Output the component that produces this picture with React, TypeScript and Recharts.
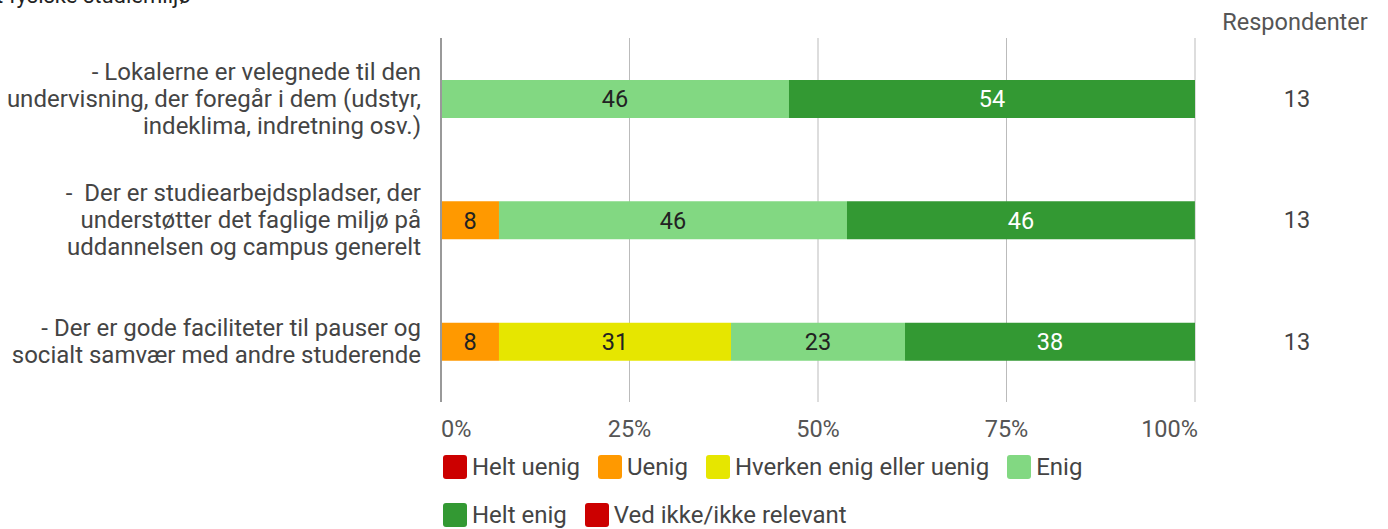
import React from 'react';
import { BarChart, Bar, XAxis, YAxis, CartesianGrid, LabelList } from 'recharts';

const categories = [
  ['- Lokalerne er velegnede til den', 'undervisning, der foregår i dem (udstyr,', 'indeklima, indretning osv.)'],
  ['-  Der er studiearbejdspladser, der', 'understøtter det faglige miljø på', 'uddannelsen og campus generelt'],
  ['- Der er gode faciliteter til pauser og', 'socialt samvær med andre studerende'],
];

const seriesNames = ['Helt uenig', 'Uenig', 'Hverken enig eller uenig', 'Enig', 'Helt enig', 'Ved ikke/ikke relevant'];
const seriesColors = ['#cc0000', '#ff9900', '#e6e600', '#82d882', '#339933', '#cc0000'];
const labelColors = ['#ffffff', '#222222', '#222222', '#222222', '#ffffff', '#ffffff'];

// percentages per category
const heltUenig = [0, 0, 0];
const uenig = [0, 7.69, 7.69];
const hverken = [0, 0, 30.77];
const enig = [46.15, 46.15, 23.08];
const heltEnig = [53.85, 46.15, 38.46];
const vedIkke = [0, 0, 0];

const respondents = [13, 13, 13];
const xTicks = [0, 25, 50, 75, 100];

const seriesValues = [heltUenig, uenig, hverken, enig, heltEnig, vedIkke];
const keys = ['s0', 's1', 's2', 's3', 's4', 's5'];

const data = categories.map((lines, i) => {
  const row: any = { name: lines.join(' '), lines, n: respondents[i] };
  keys.forEach((k, j) => (row[k] = seriesValues[j][i]));
  return row;
});

const FONT = 'Roboto, "Noto Sans", sans-serif';
const FS = 23.5;

const CategoryTick = (props: any) => {
  const { y, payload } = props;
  const lines: string[] = data[payload.index]?.lines ?? [payload.value];
  const lh = 27;
  const startY = y - ((lines.length - 1) * lh) / 2;
  return (
    <g>
      {lines.map((l, i) => (
        <text key={i} x={421} y={startY + i * lh} dy="0.35em" textAnchor="end" fill="#444" fontSize={24} fontFamily={FONT} style={{ whiteSpace: 'pre' }}>
          {l}
        </text>
      ))}
    </g>
  );
};

const RespondentTick = (props: any) => {
  const { y, payload } = props;
  return (
    <text x={1297} y={y} dy="0.35em" textAnchor="middle" fill="#444" fontSize={FS} fontFamily={FONT}>
      {data[payload.index]?.n}
    </text>
  );
};

const PercentTick = (props: any) => {
  const { x, y, payload, index } = props;
  const anchor = index === 0 ? 'start' : index === xTicks.length - 1 ? 'end' : 'middle';
  const dx = index === xTicks.length - 1 ? 3 : 0;
  return (
    <text x={x + dx} y={y + 27} textAnchor={anchor} fill="#555" fontSize={FS} fontFamily={FONT}>
      {payload.value}%
    </text>
  );
};

const makeLabel = (color: string) => (props: any) => {
  const { x, y, width, height, value } = props;
  if (!value) return null;
  return (
    <text x={x + width / 2} y={y + height / 2} dy="0.35em" textAnchor="middle" fill={color} fontSize={FS} fontFamily={FONT}>
      {Math.round(value)}
    </text>
  );
};

export default function App() {
  return (
    <div style={{ position: 'absolute', left: 0, top: 0, width: 1388, height: 529, background: '#fff', fontFamily: FONT, overflow: 'hidden' }}>
      <svg width={1388} height={40} style={{ position: 'absolute', left: 0, top: 0 }}>
        <text x={-30} y={3} fontSize={22} fill="#222" fontFamily={FONT}>Det fysiske studiemiljø</text>
        <text x={1295} y={22} dy="0.35em" textAnchor="middle" fontSize={FS} fill="#555" fontFamily={FONT}>Respondenter</text>
      </svg>
      <BarChart
        width={1388}
        height={529}
        data={data}
        layout="vertical"
        margin={{ top: 38, right: 0, bottom: 97, left: 0 }}
        style={{ position: 'absolute', left: 0, top: 0 }}
      >
        <CartesianGrid horizontal={false} stroke="#bbbbbb" yAxisId="left" />
        <XAxis type="number" domain={[0, 100]} ticks={xTicks} axisLine={false} tickLine={false} height={30} tick={<PercentTick />} interval={0} />
        <YAxis yAxisId="left" type="category" dataKey="name" width={441} axisLine={{ stroke: '#999', strokeWidth: 2 }} tickLine={false} tick={<CategoryTick />} />
        <YAxis yAxisId="right" orientation="right" type="category" dataKey="name" width={193} axisLine={false} tickLine={false} tick={<RespondentTick />} />
        {keys.map((k, j) => (
          <Bar key={k} yAxisId="left" dataKey={k} name={seriesNames[j]} stackId="a" fill={seriesColors[j]} barSize={38} isAnimationActive={false}>
            <LabelList dataKey={k} content={makeLabel(labelColors[j])} />
          </Bar>
        ))}
      </BarChart>
      <div style={{ position: 'absolute', left: 443, top: 455, width: 754, display: 'flex', flexWrap: 'wrap', rowGap: 24 }}>
        {seriesNames.map((s, j) => (
          <div key={s} style={{ display: 'flex', alignItems: 'center', height: 24, marginRight: 18 }}>
            <div style={{ width: 24, height: 24, borderRadius: 3, background: seriesColors[j], marginRight: 5 }} />
            <span style={{ fontSize: 24, color: '#444', whiteSpace: 'nowrap' }}>{s}</span>
          </div>
        ))}
      </div>
    </div>
  );
}
